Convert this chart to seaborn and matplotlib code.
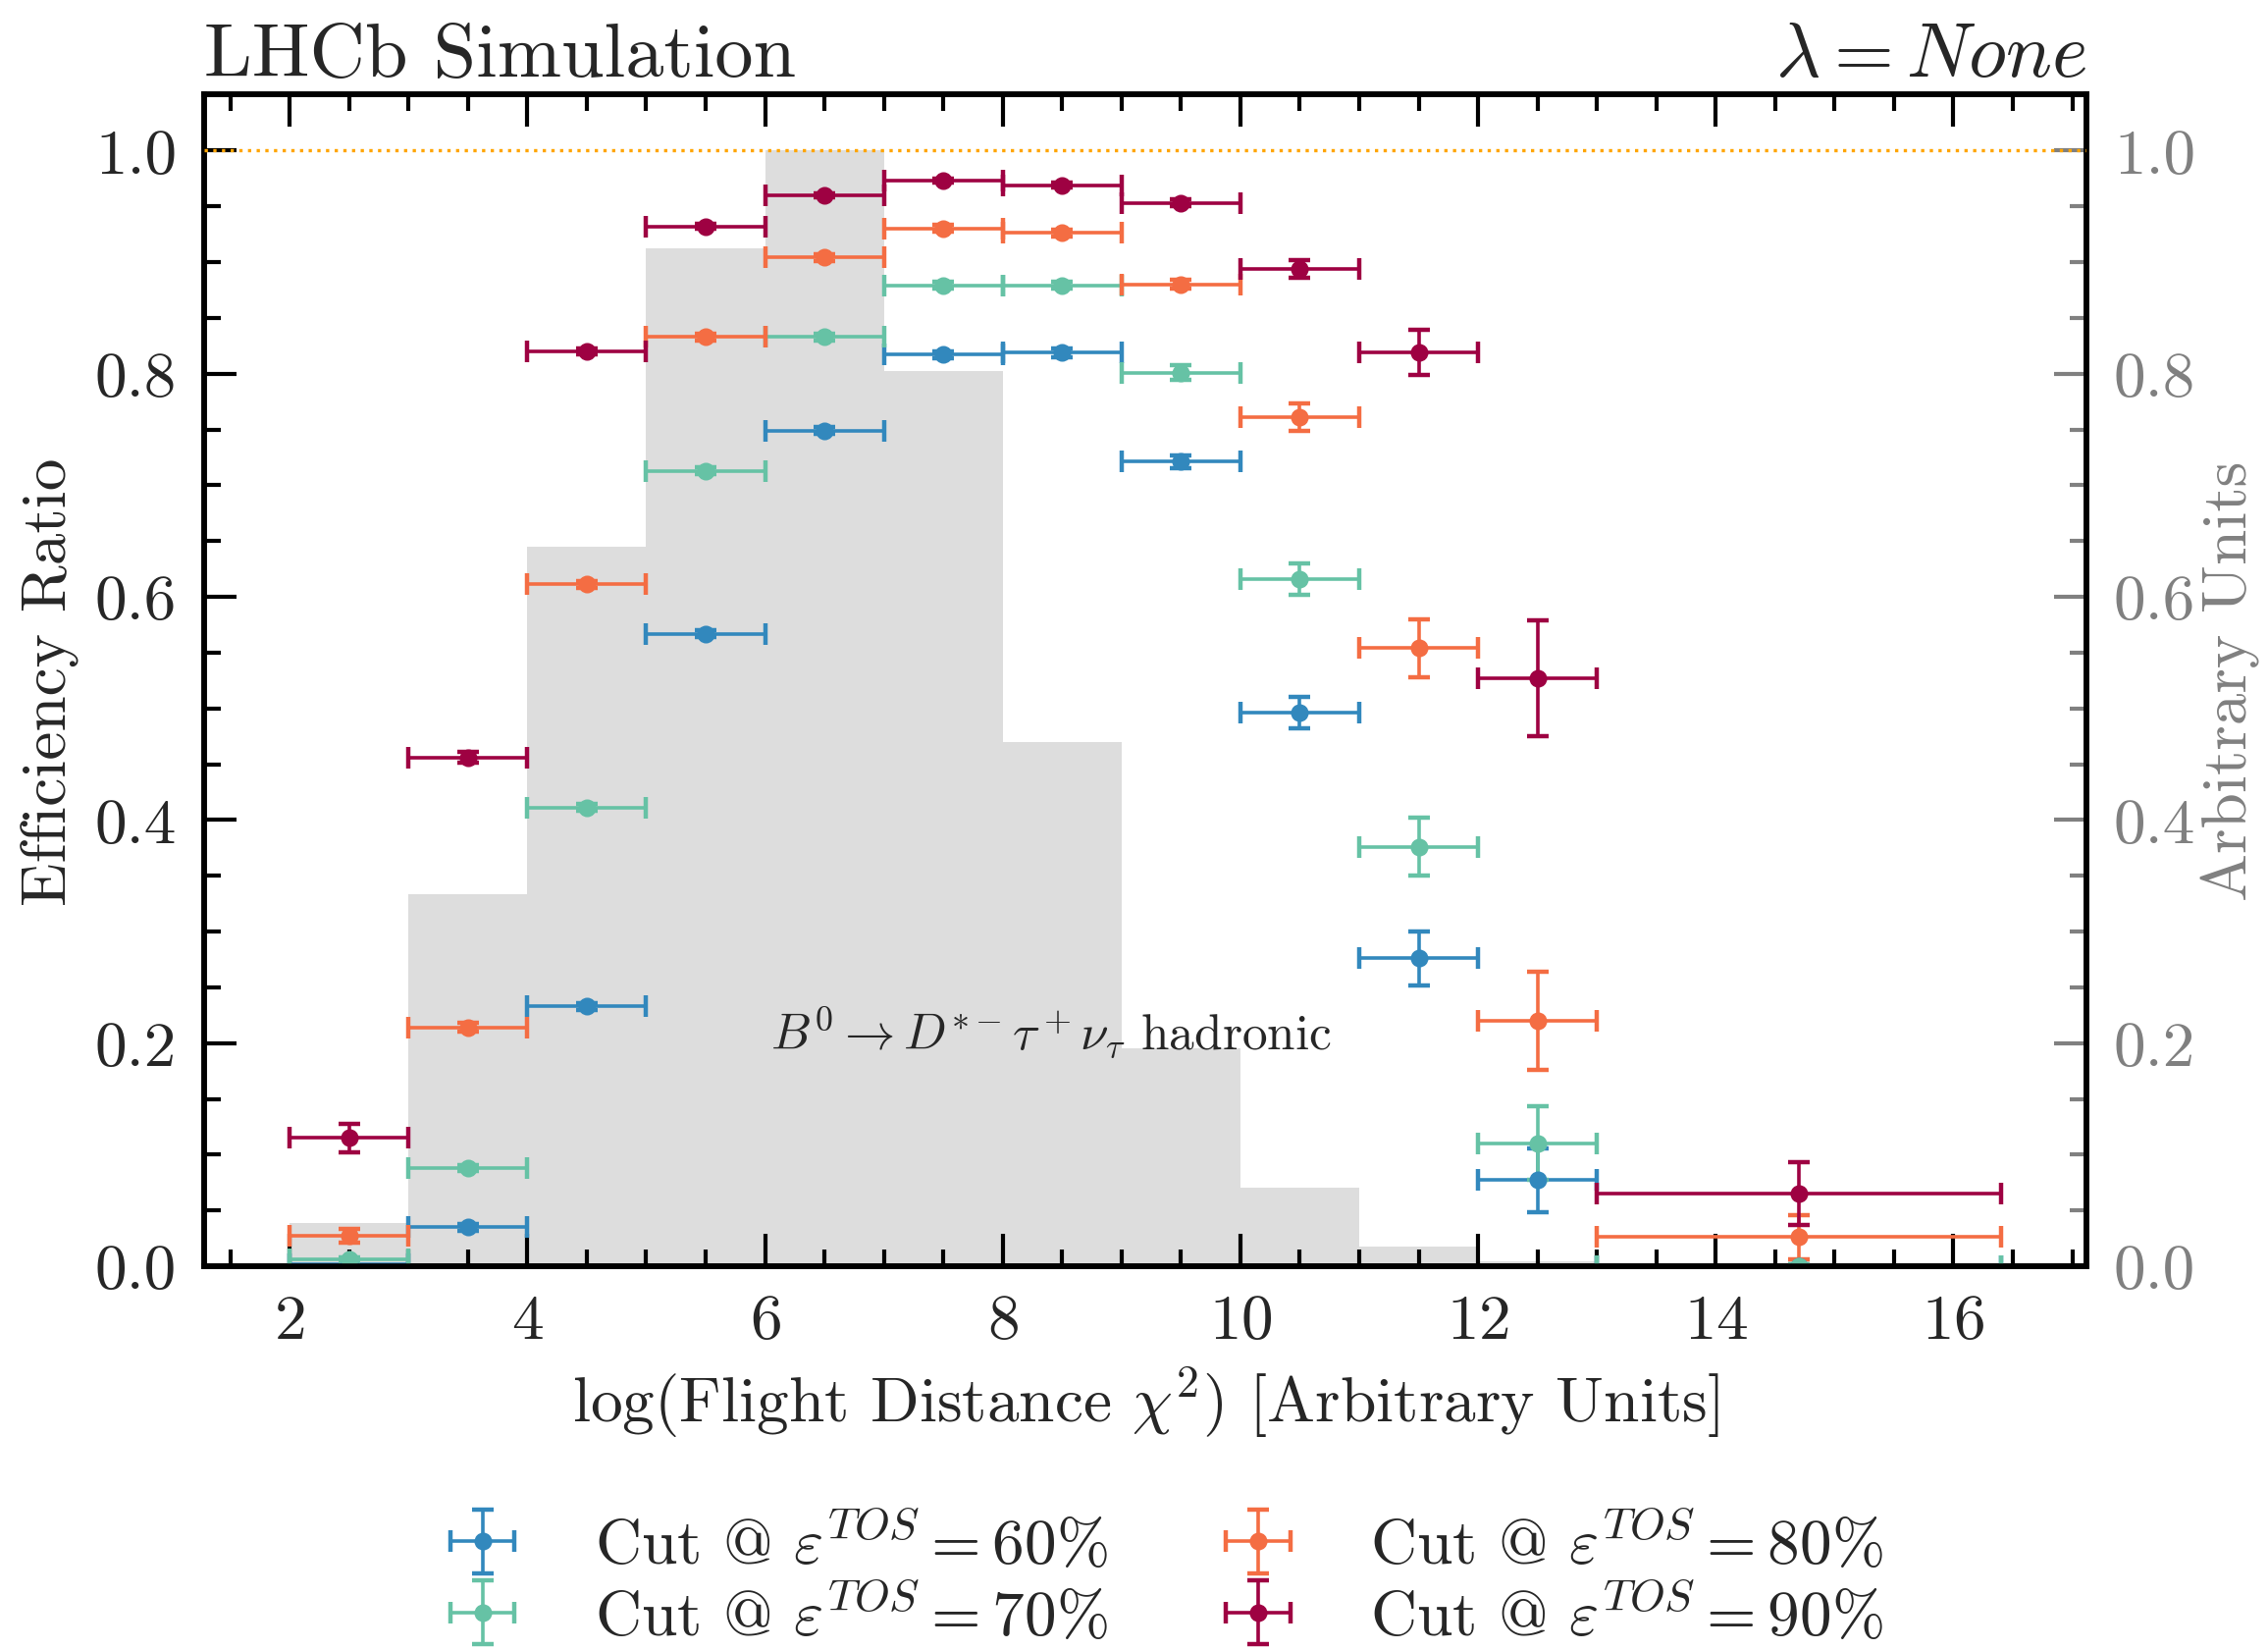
import matplotlib
matplotlib.use('Agg')
import matplotlib.pyplot as plt
import numpy as np
import pandas as pd
import seaborn as sns
from matplotlib.ticker import MultipleLocator, FormatStrFormatter

# binning of log(FD chi2)
bin_edges = [2, 3, 4, 5, 6, 7, 8, 9, 10, 11, 12, 13, 16.4]
bin_centers = [2.5, 3.5, 4.5, 5.5, 6.5, 7.5, 8.5, 9.5, 10.5, 11.5, 12.5, 14.7]
bin_halfwidths = [0.5, 0.5, 0.5, 0.5, 0.5, 0.5, 0.5, 0.5, 0.5, 0.5, 0.5, 1.7]

# signal shape (normalised to max)
hist_vals = [0.039, 0.333, 0.645, 0.912, 1.0, 0.802, 0.470, 0.195, 0.070, 0.018, 0.004, 0.002]

# efficiency ratios per cut
eff_60 = [0.002, 0.035, 0.233, 0.567, 0.749, 0.817, 0.819, 0.721, 0.496, 0.276, 0.077, 0.0]
err_60 = [0.002, 0.003, 0.003, 0.003, 0.003, 0.003, 0.004, 0.006, 0.014, 0.024, 0.029, 0.002]
eff_70 = [0.006, 0.088, 0.411, 0.713, 0.833, 0.879, 0.879, 0.801, 0.616, 0.376, 0.110, 0.0]
err_70 = [0.002, 0.003, 0.003, 0.003, 0.003, 0.003, 0.003, 0.007, 0.014, 0.026, 0.033, 0.002]
eff_80 = [0.027, 0.214, 0.611, 0.833, 0.904, 0.930, 0.926, 0.880, 0.761, 0.554, 0.220, 0.026]
err_80 = [0.006, 0.004, 0.003, 0.003, 0.003, 0.003, 0.003, 0.004, 0.012, 0.026, 0.044, 0.020]
eff_90 = [0.115, 0.456, 0.820, 0.932, 0.960, 0.973, 0.969, 0.953, 0.894, 0.819, 0.527, 0.065]
err_90 = [0.013, 0.005, 0.003, 0.002, 0.002, 0.002, 0.002, 0.003, 0.008, 0.020, 0.052, 0.028]

cut_labels = ['60', '70', '80', '90']
cut_colors = ['#3288bd', '#66c2a5', '#f46d43', '#9e0142']

sns.set_style('ticks')
plt.rcParams['font.family'] = ['cmr10', 'DejaVu Serif']
plt.rcParams['mathtext.fontset'] = 'cm'
plt.rcParams['axes.formatter.use_mathtext'] = True
plt.rcParams['font.size'] = 23.5

fig = plt.figure(figsize=(11.555, 8.405), dpi=200)
ax = fig.add_axes([0.090, 0.232, 0.830, 0.710])
ax2 = ax.twinx()

# histogram in the background
sns.histplot(x=bin_centers, weights=hist_vals, bins=bin_edges, color='#dddddd',
             alpha=1, linewidth=0, element='bars', ax=ax2)
ax.set_zorder(ax2.get_zorder() + 1)
ax.patch.set_visible(False)

effs = [eff_60, eff_70, eff_80, eff_90]
errs = [err_60, err_70, err_80, err_90]
for eff, err, lab, col in zip(effs, errs, cut_labels, cut_colors):
    ax.errorbar(bin_centers, eff, xerr=bin_halfwidths, yerr=err, fmt='o', color=col,
                markersize=5.5, elinewidth=1.3, capsize=3.8, capthick=1.6,
                label=r'Cut @ $\varepsilon^{TOS} = ' + lab + r'\%$')

ax.axhline(1.0, color='orange', linestyle=':', linewidth=1.2, zorder=3)

ax.set_ylim(0, 1.05)
ax2.set_ylim(0, 1.05)
ax.set_xlim(1.28, 17.12)

ax.xaxis.set_major_locator(MultipleLocator(2))
ax.xaxis.set_minor_locator(MultipleLocator(0.5))
ax.yaxis.set_major_locator(MultipleLocator(0.2))
ax.yaxis.set_minor_locator(MultipleLocator(0.05))
ax2.yaxis.set_major_locator(MultipleLocator(0.2))
ax2.yaxis.set_minor_locator(MultipleLocator(0.05))

ax.tick_params(which='both', direction='in', top=True, right=False, color='black', width=1.5)
ax.tick_params(which='major', length=12, pad=10)
ax.tick_params(which='minor', length=6)
ax2.tick_params(which='both', direction='in', left=False, right=True, bottom=False, top=False,
                color='grey', labelcolor='grey', width=1.5)
ax2.tick_params(which='major', length=12, pad=10)
ax2.tick_params(which='minor', length=6)
ax.yaxis.set_major_formatter(FormatStrFormatter('%.1f'))
ax2.yaxis.set_major_formatter(FormatStrFormatter('%.1f'))

for a in (ax, ax2):
    for s in a.spines.values():
        s.set_linewidth(2)
        s.set_color('black')

ax.set_xlabel(r'log(Flight Distance $\chi^2$) [Arbitrary Units]')
ax.set_ylabel('Efficiency Ratio')
ax2.set_ylabel('Arbitrary Units', color='grey')
ax.xaxis.set_label_coords(0.5, -0.083)
ax.yaxis.set_label_coords(-0.066, 0.5)
ax2.yaxis.set_label_coords(1.061, 0.5)
ax.set_title('LHCb Simulation', loc='left', pad=7)
ax.set_title(r'$\lambda = None$', loc='right', pad=7)

ax.text(0.45, 0.2, r'$B^0 \to D^{*-}\tau^+\nu_\tau$ hadronic', transform=ax.transAxes,
        ha='center', va='center', fontsize=18.5)

fig.legend(*ax.get_legend_handles_labels(), loc='center', bbox_to_anchor=(0.511, 0.042),
           ncol=2, frameon=False, labelspacing=0.1, handlelength=1.5, handletextpad=1.0,
           columnspacing=1.6)

fig.savefig('out.png', dpi=200)
